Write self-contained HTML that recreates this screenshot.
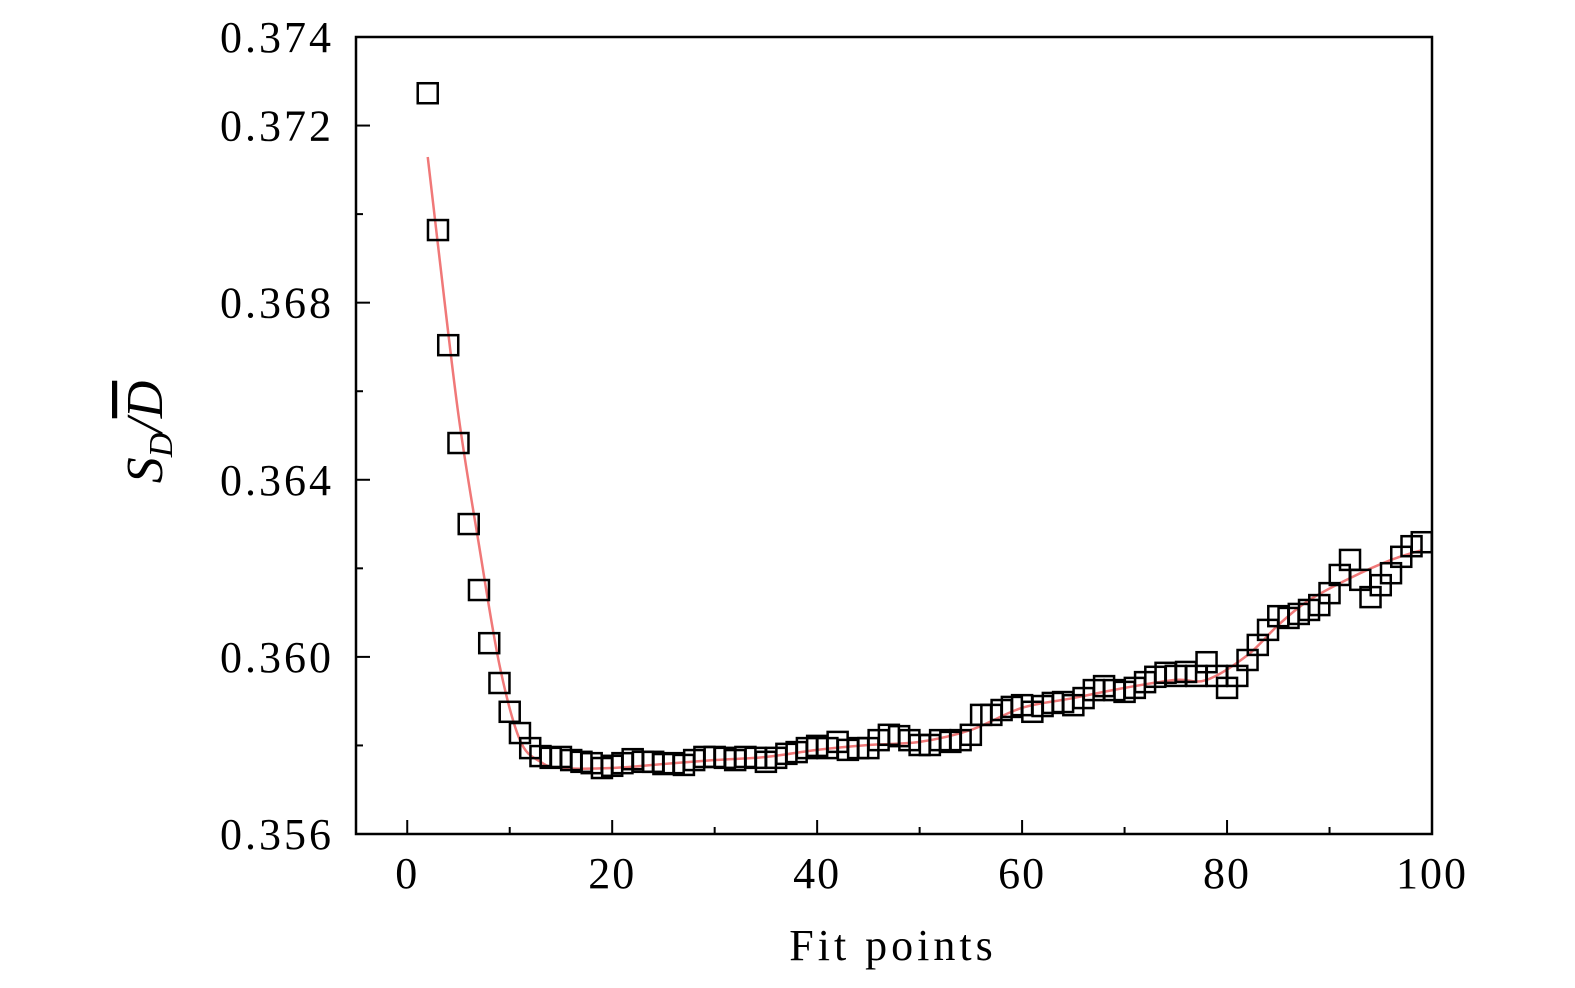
<!DOCTYPE html>
<html><head><meta charset="utf-8"><style>
body{margin:0;background:#fff;}
svg{display:block;font-family:"Liberation Serif",serif;}
</style></head><body>
<svg id="chart" width="1575" height="988" viewBox="0 0 1575 988" xmlns="http://www.w3.org/2000/svg">
<g id="fit"></g>
<g id="pts"></g>
<g id="axes"></g>
<text x="893" y="960" font-size="44" letter-spacing="4" text-anchor="middle">Fit points</text>
<g transform="translate(162,432) rotate(-90)">
<text x="0" y="0" font-size="52" font-style="italic" text-anchor="middle">S<tspan font-size="34" dy="10">D</tspan><tspan dy="-10">/</tspan><tspan text-decoration="overline">D</tspan></text>
</g>
</svg>
<script>
const xs=[2,3,4,5,6,7,8,9,10,11,12,13,14,15,16,17,18,19,20,21,22,23,24,25,26,27,28,29,30,31,32,33,34,35,36,37,38,39,40,41,42,43,44,45,46,47,48,49,50,51,52,53,54,55,56,57,58,59,60,61,62,63,64,65,66,67,68,69,70,71,72,73,74,75,76,77,78,79,80,81,82,83,84,85,86,87,88,89,90,91,92,93,94,95,96,97,98,99];
const ys=[0.37273,0.36964,0.36704,0.36483,0.36300,0.36151,0.36031,0.35941,0.35876,0.35828,0.35794,0.35776,0.35772,0.35774,0.35767,0.35763,0.35760,0.35749,0.35754,0.35760,0.35769,0.35763,0.35763,0.35758,0.35760,0.35756,0.35767,0.35774,0.35774,0.35772,0.35767,0.35774,0.35772,0.35763,0.35772,0.35781,0.35785,0.35794,0.35799,0.35794,0.35808,0.35790,0.35794,0.35794,0.35812,0.35824,0.35821,0.35812,0.35801,0.35801,0.35812,0.35808,0.35812,0.35824,0.35869,0.35869,0.35880,0.35887,0.35891,0.35876,0.35889,0.35896,0.35898,0.35891,0.35907,0.35925,0.35934,0.35925,0.35921,0.35930,0.35943,0.35955,0.35964,0.35957,0.35966,0.35957,0.35988,0.35957,0.35930,0.35957,0.35993,0.36027,0.36061,0.36092,0.36088,0.36097,0.36106,0.36117,0.36144,0.36185,0.36219,0.36174,0.36135,0.36162,0.36189,0.36226,0.36250,0.36259];
const fitX=[2,3,5,7,9,11,13,15,20,25,30,35,40,45,50,55,60,65,70,75,78,82,85,88,92,96,99];
const fitY=[0.37129,0.3693,0.36546,0.36253,0.35982,0.35812,0.35763,0.35749,0.35749,0.35758,0.35767,0.35774,0.3579,0.35801,0.35808,0.35835,0.35885,0.35907,0.3593,0.35948,0.35948,0.36004,0.36072,0.36128,0.36178,0.36219,0.36241];
const xTicks=[0,20,40,60,80,100];
const xMinor=[10,30,50,70,90];
const yTicks=[0.356,0.360,0.364,0.368,0.372];
const yMinor=[0.358,0.362,0.366,0.370];
const yTopLabel=[0.374];
const L=356,R=1432,T=37,B=834,X0=-5,X1=100,Y0=0.356,Y1=0.374;
const sx=v=>L+(v-X0)/(X1-X0)*(R-L);
const sy=v=>B-(v-Y0)/(Y1-Y0)*(B-T);
const NS="http://www.w3.org/2000/svg";
function mk(tag,parent){const e=document.createElementNS(NS,tag);parent.appendChild(e);return e;}
const ax=document.getElementById('axes');
const frame=mk('rect',ax);


frame.setAttribute('x',L);frame.setAttribute('y',T);frame.setAttribute('width',R-L);frame.setAttribute('height',B-T);
frame.setAttribute('fill','none');frame.setAttribute('stroke','#000');frame.setAttribute('stroke-width','2.5');
xTicks.forEach(v=>{const t=mk('line',ax);


t.setAttribute('x1',sx(v));t.setAttribute('x2',sx(v));t.setAttribute('y1',B);t.setAttribute('y2',B-14);t.setAttribute('stroke','#000');t.setAttribute('stroke-width','2');
const l=mk('text',ax);


l.setAttribute('x',sx(v));l.setAttribute('y',888);l.setAttribute('font-size','44');l.setAttribute('letter-spacing','2');l.setAttribute('text-anchor','middle');l.textContent=v;});
xMinor.forEach(v=>{const t=mk('line',ax);


t.setAttribute('x1',sx(v));t.setAttribute('x2',sx(v));t.setAttribute('y1',B);t.setAttribute('y2',B-7);t.setAttribute('stroke','#000');t.setAttribute('stroke-width','2');});
yTicks.concat(yTopLabel).forEach(v=>{if(v<Y1){const t=mk('line',ax);


t.setAttribute('x1',L);t.setAttribute('x2',L+14);t.setAttribute('y1',sy(v));t.setAttribute('y2',sy(v));t.setAttribute('stroke','#000');t.setAttribute('stroke-width','2');}
const l=mk('text',ax);


l.setAttribute('x',334);l.setAttribute('y',sy(v)+15);l.setAttribute('font-size','44');l.setAttribute('letter-spacing','3');l.setAttribute('text-anchor','end');l.textContent=v.toFixed(3);});
yMinor.forEach(v=>{const t=mk('line',ax);


t.setAttribute('x1',L);t.setAttribute('x2',L+7);t.setAttribute('y1',sy(v));t.setAttribute('y2',sy(v));t.setAttribute('stroke','#000');t.setAttribute('stroke-width','2');});
const pg=document.getElementById('pts');
xs.forEach((x,i)=>{const r=mk('rect',pg);


r.setAttribute('x',sx(x)-10);r.setAttribute('y',sy(ys[i])-10);r.setAttribute('width',20);r.setAttribute('height',20);
r.setAttribute('fill','none');r.setAttribute('stroke','#000');r.setAttribute('stroke-width','2.5');});
const P=fitX.map((x,i)=>[sx(x),sy(fitY[i])]);
let d='M'+P[0][0]+','+P[0][1];
for(let i=0;i<P.length-1;i++){const p0=P[Math.max(0,i-1)],p1=P[i],p2=P[i+1],p3=P[Math.min(P.length-1,i+2)];
d+=' C'+(p1[0]+(p2[0]-p0[0])/6)+','+(p1[1]+(p2[1]-p0[1])/6)+' '+(p2[0]-(p3[0]-p1[0])/6)+','+(p2[1]-(p3[1]-p1[1])/6)+' '+p2[0]+','+p2[1];}
const fp=mk('path',document.getElementById('fit'));


fp.setAttribute('d',d);fp.setAttribute('fill','none');fp.setAttribute('stroke','#f07878');fp.setAttribute('stroke-width','2.5');
</script>
</body></html>
